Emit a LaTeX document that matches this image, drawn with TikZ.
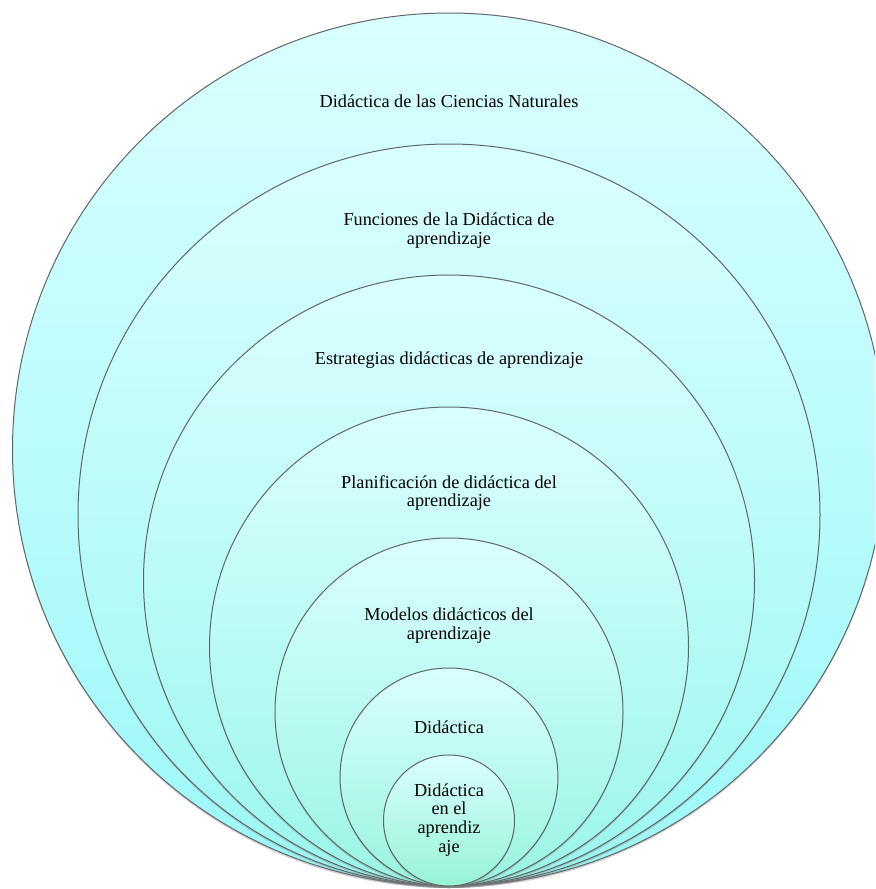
\documentclass[tikz,border=0pt]{standalone}
\usepackage{fontspec}
\setmainfont{Liberation Serif}
\usetikzlibrary{shadows}
\definecolor{ringline}{RGB}{96,102,104}
\definecolor{ringtop}{RGB}{218,255,255}
\definecolor{ringcyan}{RGB}{156,248,248}
\definecolor{ringmint}{RGB}{150,242,212}
\begin{document}
\begin{tikzpicture}[x=0.75pt, y=-0.75pt, font=\fontsize{13.7}{14.2}\selectfont,
	ring/.style={circle, draw=ringline, line width=0.75pt, inner sep=0pt, top color=ringtop,
		drop shadow={shadow xshift=0pt, shadow yshift=-1.5pt, opacity=0.35}},
	lbl/.style={align=center, inner sep=1pt}]
	\useasboundingbox (0,0) rectangle (875,889);
	\clip (0,0) rectangle (875,889);
	% nested rings, all touching at the bottom
	\foreach \n/\t/\g in {c1/13/0, c2/144/12, c3/275/25, c4/407/40, c5/538/55, c6/668/72, c7/755/90}{
		\pgfmathsetmacro\d{(886-\t)*0.75}
		\node[ring, bottom color=ringmint!\g!ringcyan, minimum size=\d pt] (\n) at (449,{(886+\t)/2}) {};
	}
	\node[lbl] (t1) at (449,101) {Didáctica de las Ciencias Naturales};
	\node[lbl] (t2) at (449,231) {Funciones de la Didáctica de\\aprendizaje};
	\node[lbl] (t3) at (449,360) {Estrategias didácticas de aprendizaje};
	\node[lbl] (t4) at (449,493) {Planificación de didáctica del\\aprendizaje};
	\node[lbl] (t5) at (449,626) {Modelos didácticos del\\aprendizaje};
	\node[lbl] (t6) at (449,727) {Didáctica};
	\node[lbl] (t7) at (449,820) {Didáctica\\en el\\aprendiz\\aje};
\end{tikzpicture}
\end{document}
